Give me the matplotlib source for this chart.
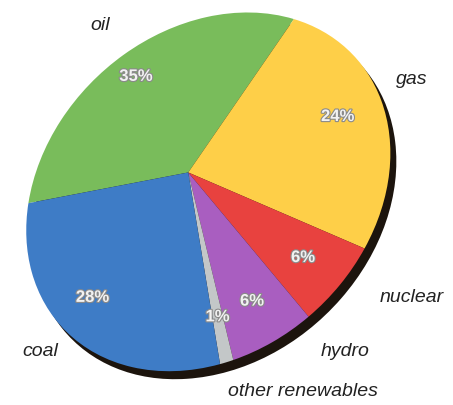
import numpy as np
import matplotlib
matplotlib.use("Agg")
import matplotlib.pyplot as plt
import matplotlib.transforms as mtransforms
import matplotlib.patheffects as pe
from matplotlib.patches import Circle

# energy mix, clockwise from the coal/oil boundary
sources = ["oil", "gas", "nuclear", "hydro", "other renewables", "coal"]
shares = [35, 24, 6, 6, 1, 28]
colors = ["#79bc5b", "#fecf48", "#e8423f", "#a95ec0", "#c3c7c8", "#3e7cc6"]

# where the tilted disk sits on the page (pixels): centre, then rim points
# at each wedge boundary, starting with coal/oil and going clockwise
hub = (190, 173)
rim = [(28, 203), (293, 19), (367, 248), (305, 317), (233, 361), (221, 363)]

# category label anchors (pixels)
label_pos = {
    "oil": (100, 26), "gas": (412, 79), "nuclear": (412, 298),
    "hydro": (345, 352), "other renewables": (303, 392), "coal": (40, 352),
}


class Perspective(mtransforms.Transform):
    input_dims = output_dims = 2

    def __init__(self, H):
        super().__init__()
        self.H = H

    def transform_non_affine(self, xy):
        xy = np.asarray(xy, dtype=float).reshape(-1, 2)
        p = np.column_stack([xy, np.ones(len(xy))]) @ self.H.T
        return p[:, :2] / p[:, 2:3]

    def inverted(self):
        return Perspective(np.linalg.inv(self.H))


def fit_homography(src, dst):
    # plain DLT with normalised target points
    dst = np.asarray(dst, float)
    c = dst.mean(axis=0)
    s = np.abs(dst - c).max()
    T = np.array([[1 / s, 0, -c[0] / s], [0, 1 / s, -c[1] / s], [0, 0, 1]])
    dn = (dst - c) / s
    rows = []
    for (u, v), (x, y) in zip(src, dn):
        rows.append([-u, -v, -1, 0, 0, 0, x * u, x * v, x])
        rows.append([0, 0, 0, -u, -v, -1, y * u, y * v, y])
    _, _, vt = np.linalg.svd(np.array(rows))
    Hn = vt[-1].reshape(3, 3)
    H = np.linalg.inv(T) @ Hn
    return H / H[2, 2]


start = 90
cum = np.concatenate([[0], np.cumsum(shares)[:-1]]) / sum(shares)
angles = np.deg2rad(start - 360 * cum)
src = [(0.0, 0.0)] + [(np.cos(a), np.sin(a)) for a in angles]
H = fit_homography(src, [hub] + rim)
persp = Perspective(H)

fig = plt.figure(figsize=(4.53, 4.05), dpi=100)
ax = fig.add_axes([0, 0, 1, 1])

wedges, texts, autotexts = ax.pie(
    shares, colors=colors, startangle=start, counterclock=False,
    autopct="%.0f%%", pctdistance=0.79,
    wedgeprops=dict(linewidth=0),
    textprops=dict(color="#f2f2f2", fontsize=12, fontweight="bold",
                   family="Liberation Sans"),
)

ax.set_xlim(0, 453)
ax.set_ylim(405, 0)
ax.set_aspect("auto")
ax.axis("off")

# dark side of the disk, peeking out at the lower right
side = Circle((0, 0), 1, facecolor="#1c140d", edgecolor="none", zorder=0)
side.set_transform(persp + mtransforms.Affine2D().translate(6, 8) + ax.transData)
ax.add_patch(side)

for w in wedges:
    w.set_transform(persp + ax.transData)
    w.set_zorder(1)

for t in autotexts:
    x, y = persp.transform(np.array([t.get_position()]))[0]
    t.set_position((x, y))
    t.set_zorder(3)
    t.set_path_effects([pe.withStroke(linewidth=1.6, foreground="#8a8a8a")])

for t in texts:
    t.set_visible(False)

for name in sources:
    ax.text(*label_pos[name], name, ha="center", va="center", fontsize=14,
            style="italic", color="#222222", family="Liberation Sans")

fig.savefig("out.png", dpi=100)
